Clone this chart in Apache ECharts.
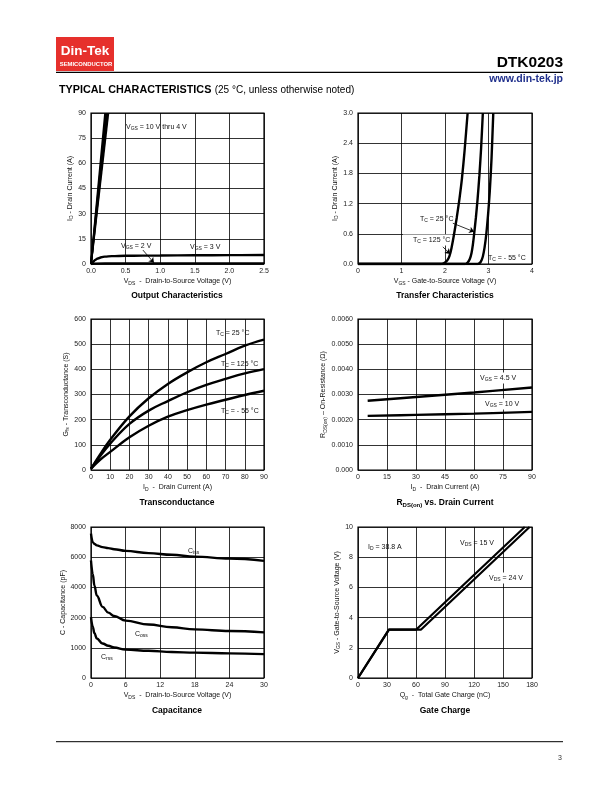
<!DOCTYPE html>
<html><head><meta charset="utf-8">
<script src="https://cdn.jsdelivr.net/npm/echarts@6/dist/echarts.min.js"></script>
<style>html,body{margin:0;padding:0;background:#fff}#c{width:612px;height:792px}</style>
</head><body><div id="c"></div>
<script>
// ---------- DATA ----------
// Output characteristics (VDS in V, ID in A)
const out_vgs10_x = [0, 0.205];   const out_vgs10_y = [0, 90];
const out_vgs6_x  = [0, 0.22];    const out_vgs6_y  = [0, 90];
const out_vgs5_x  = [0, 0.235];   const out_vgs5_y  = [0, 90];
const out_vgs4_x  = [0, 0.25];    const out_vgs4_y  = [0, 90];
const out_vgs3_x  = [0, 0.03, 0.06, 0.1, 0.15, 0.2, 0.3, 0.5, 1.0, 1.5, 2.0, 2.5];
const out_vgs3_y  = [0, 1.2, 2.4, 3.3, 4.0, 4.4, 4.7, 4.9, 5.1, 5.2, 5.3, 5.4];
const out_vgs2_x  = [0, 0.05, 0.2, 0.5, 1.0, 1.5, 2.0, 2.5];
const out_vgs2_y  = [0, 0.2, 0.35, 0.4, 0.4, 0.4, 0.4, 0.4];
// Transfer characteristics (VGS in V, ID in A)
const tr125_x = [0, 1.9, 1.98, 2.05, 2.1, 2.15, 2.21, 2.27, 2.33, 2.39, 2.45, 2.52];
const tr125_y = [0, 0, 0.02, 0.07, 0.15, 0.32, 0.6, 0.92, 1.28, 1.7, 2.25, 3.0];
const tr25_x  = [0, 2.45, 2.52, 2.57, 2.61, 2.64, 2.67, 2.71, 2.75, 2.79, 2.83, 2.87];
const tr25_y  = [0, 0, 0.03, 0.1, 0.22, 0.38, 0.6, 0.92, 1.3, 1.75, 2.3, 3.0];
const trm55_x = [0, 2.75, 2.82, 2.87, 2.91, 2.95, 2.99, 3.03, 3.07, 3.11];
const trm55_y = [0, 0, 0.04, 0.15, 0.33, 0.6, 0.98, 1.45, 2.1, 3.0];
// Transconductance (ID in A, Gfs in S)
const gfs_id   = [0, 5, 10, 20, 30, 40, 50, 60, 70, 80, 90];
const gfs_25   = [5, 65, 120, 213, 285, 342, 388, 428, 461, 494, 518];
const gfs_125  = [5, 58, 105, 183, 236, 274, 309, 338, 362, 384, 401];
const gfs_m55  = [5, 42, 72, 130, 176, 212, 238, 260, 279, 298, 315];
// RDS(on) vs drain current (ID in A, ohm)
const rds_id   = [5, 30, 60, 90];
const rds_45   = [0.00275, 0.00290, 0.00308, 0.00328];
const rds_10   = [0.00215, 0.00219, 0.00224, 0.00231];
// Capacitance (VDS in V, pF)
const cap_v    = [0, 0.3, 0.6, 1, 2, 3, 4, 6, 10, 14, 18, 24, 30];
const cap_ciss = [7560, 7000, 6880, 6780, 6670, 6600, 6530, 6420, 6270, 6160, 6040, 5910, 5760];
const cap_coss = [5780, 4890, 4110, 3460, 2710, 2330, 2110, 1900, 1770, 1680, 1610, 1556, 1510];
const cap_crss = [2030, 1700, 1480, 1310, 1140, 1070, 1010, 940, 900, 860, 840, 815, 790];
const capTicks = [0, 1000, 2000, 4000, 6000, 8000];
// Gate charge (Qg in nC, VGS in V)
const gc15_q = [0, 32, 60, 172.5];  const gc15_v = [0, 3.2, 3.2, 10];
const gc24_q = [0, 32, 65, 177.5];  const gc24_v = [0, 3.2, 3.2, 10];

// ---------- HELPERS ----------
const FONT = '"Liberation Sans", Arial, Helvetica, sans-serif';
const R = {
  n: {fontSize: 7, fontFamily: FONT, color: '#111'},
  s: {fontSize: 5, fontFamily: FONT, color: '#111', padding: [4, 0, 0, 0]},
  b: {fontSize: 8.5, fontFamily: FONT, fontWeight: 'bold', color: '#000'},
  bs: {fontSize: 6, fontFamily: FONT, fontWeight: 'bold', color: '#000', padding: [4, 0, 0, 0]}
};
function capToAxis(v) {
  for (let i = 1; i < capTicks.length; i++) {
    if (v <= capTicks[i]) return (i - 1) + (v - capTicks[i - 1]) / (capTicks[i] - capTicks[i - 1]);
  }
  return capTicks.length - 1;
}
const G = [
  {left: 91, top: 113, width: 173, height: 151},
  {left: 358, top: 113, width: 174, height: 151},
  {left: 91, top: 319, width: 173, height: 151},
  {left: 358, top: 319, width: 174, height: 151},
  {left: 91, top: 527, width: 173, height: 151},
  {left: 358, top: 527, width: 174, height: 151}
];
const grids = G.map(g => Object.assign({show: true, borderColor: '#000', borderWidth: 1.2, backgroundColor: 'transparent', containLabel: false}, g));
const split = {show: true, lineStyle: {color: '#000', width: 0.8}};
function xa(i, min, max, interval, name, fmt) {
  return {gridIndex: i, type: 'value', min, max, interval, name, nameLocation: 'middle', nameGap: 13,
    nameTextStyle: {rich: R, fontSize: 7, fontFamily: FONT},
    axisLine: {show: false}, axisTick: {show: false}, splitLine: split,
    axisLabel: {fontSize: 7, fontFamily: FONT, color: '#222', margin: 4, formatter: fmt}};
}
function ya(i, min, max, interval, name, gap, fmt) {
  return {gridIndex: i, type: 'value', min, max, interval, name, nameLocation: 'middle', nameGap: gap,
    nameTextStyle: {rich: R, fontSize: 7, fontFamily: FONT},
    axisLine: {show: false}, axisTick: {show: false}, splitLine: split,
    axisLabel: {fontSize: 7, fontFamily: FONT, color: '#222', margin: 5, formatter: fmt}};
}
function line(gi, xs, ys, extra) {
  return Object.assign({type: 'line', xAxisIndex: gi, yAxisIndex: gi,
    data: xs.map((x, k) => [x, ys[k]]), showSymbol: false, symbol: 'none',
    lineStyle: {color: '#000', width: 2.4}, animation: false, silent: true, z: 3}, extra || {});
}
function arrows(list) {
  return {silent: true, symbol: ['none', 'arrow'], symbolSize: 5, animation: false,
    lineStyle: {color: '#000', width: 0.8, type: 'solid'}, label: {show: false},
    data: list.map(a => [{coord: a[0]}, {coord: a[1]}])};
}
function txt(x, y, text, extra) {
  return Object.assign({type: 'text', x, y, z: 50,
    style: Object.assign({text, rich: R, fontSize: 7, fontFamily: FONT, fill: '#111', align: 'left', verticalAlign: 'middle'}, (extra && extra.style) || {})},
    extra && extra.z ? {z: extra.z} : {});
}
function title(x, y, text) {
  return {type: 'text', x, y, z: 50, style: {text, rich: R, fontSize: 8.5, fontWeight: 'bold', fontFamily: FONT, fill: '#000', align: 'center', verticalAlign: 'middle'}};
}

// ---------- OPTION ----------
const option = {
  backgroundColor: '#fff',
  animation: false,
  grid: grids,
  xAxis: [
    xa(0, 0, 2.5, 0.5, '{n|V}{s|DS}{n|  -  Drain-to-Source Voltage (V)}', v => v.toFixed(1)),
    xa(1, 0, 4, 1, '{n|V}{s|GS}{n| - Gate-to-Source Voltage (V)}'),
    xa(2, 0, 90, 10, '{n|I}{s|D}{n|  -  Drain Current (A)}'),
    xa(3, 0, 90, 15, '{n|I}{s|D}{n|  -  Drain Current (A)}'),
    xa(4, 0, 30, 6, '{n|V}{s|DS}{n|  -  Drain-to-Source Voltage (V)}'),
    xa(5, 0, 180, 30, '{n|Q}{s|g}{n|  -  Total Gate Charge (nC)}')
  ],
  yAxis: [
    ya(0, 0, 90, 15, '{n|I}{s|D}{n| - Drain Current (A)}', 16),
    ya(1, 0, 3, 0.6, '{n|I}{s|D}{n| - Drain Current (A)}', 13, v => v.toFixed(1)),
    ya(2, 0, 600, 100, '{n|G}{s|fs}{n| - Transconductance (S)}', 18),
    ya(3, 0, 0.006, 0.001, '{n|R}{s|DS(on)}{n| – On-Resistance (Ω)}', 22, v => v === 0 ? '0.000' : v.toFixed(4)),
    ya(4, 0, 5, 1, '{n|C - Capacitance (pF)}', 20, v => String(capTicks[Math.round(v)])),
    ya(5, 0, 10, 2, '{n|V}{s|GS}{n| - Gate-to-Source Voltage (V)}', 9)
  ],
  series: [
    line(0, out_vgs10_x, out_vgs10_y, {lineStyle: {color: '#000', width: 2}}),
    line(0, out_vgs6_x, out_vgs6_y, {lineStyle: {color: '#000', width: 2}}),
    line(0, out_vgs5_x, out_vgs5_y, {lineStyle: {color: '#000', width: 2}}),
    line(0, out_vgs4_x, out_vgs4_y, {lineStyle: {color: '#000', width: 2}}),
    line(0, out_vgs3_x, out_vgs3_y, {smooth: 0.4, smoothMonotone: 'x'}),
    line(0, out_vgs2_x, out_vgs2_y, {smooth: 0.3, markLine: arrows([[[0.75, 8.3], [0.91, 0.7]]])}),

    line(1, tr125_x, tr125_y, {smooth: 0.2, markLine: arrows([[[1.95, 0.34], [2.12, 0.2]]])}),
    line(1, tr25_x, tr25_y, {smooth: 0.2, markLine: arrows([[[2.18, 0.81], [2.67, 0.64]]])}),
    line(1, trm55_x, trm55_y, {smooth: 0.2}),

    line(2, gfs_id, gfs_25, {smooth: 0.4}),
    line(2, gfs_id, gfs_125, {smooth: 0.4}),
    line(2, gfs_id, gfs_m55, {smooth: 0.4}),

    line(3, rds_id, rds_45, {smooth: 0.4}),
    line(3, rds_id, rds_10, {smooth: 0.4}),

    line(4, cap_v, cap_ciss.map(capToAxis), {smooth: 0.4, smoothMonotone: 'x'}),
    line(4, cap_v, cap_coss.map(capToAxis), {smooth: 0.4, smoothMonotone: 'x'}),
    line(4, cap_v, cap_crss.map(capToAxis), {smooth: 0.4, smoothMonotone: 'x'}),

    line(5, gc15_q, gc15_v, {lineStyle: {color: '#000', width: 2.2}}),
    line(5, gc24_q, gc24_v, {lineStyle: {color: '#000', width: 2.2}})
  ],
  graphic: [
    // header
    {type: 'rect', shape: {x: 56, y: 37, width: 58, height: 34}, style: {fill: '#e6302c'}, z: 10},
    {type: 'text', x: 85, y: 51, z: 11, style: {text: 'Din-Tek', fill: '#fff', fontSize: 13.5, fontWeight: 'bold', fontFamily: FONT, align: 'center', verticalAlign: 'middle'}},
    {type: 'text', x: 86, y: 64.5, z: 11, style: {text: 'SEMICONDUCTOR', fill: '#fff', fontSize: 5.9, fontWeight: 'bold', fontFamily: FONT, align: 'center', verticalAlign: 'middle'}},
    {type: 'line', shape: {x1: 56, y1: 72.3, x2: 563, y2: 72.3}, style: {stroke: '#000', lineWidth: 1.3}, z: 10},
    {type: 'text', x: 563, y: 62.5, z: 11, style: {text: 'DTK0203', fill: '#000', fontSize: 15.5, fontWeight: 'bold', fontFamily: FONT, align: 'right', verticalAlign: 'middle'}},
    {type: 'text', x: 563, y: 79.5, z: 11, style: {text: 'www.din-tek.jp', fill: '#1f2f8c', fontSize: 10.5, fontWeight: 'bold', fontFamily: FONT, align: 'right', verticalAlign: 'middle'}},
    {type: 'text', x: 59, y: 90, z: 11, style: {text: '{t|TYPICAL CHARACTERISTICS} {u|(25 °C, unless otherwise noted)}', rich: {
      t: {fontSize: 10.8, fontWeight: 'bold', fontFamily: FONT, color: '#000'},
      u: {fontSize: 10, fontFamily: FONT, color: '#000'}}, align: 'left', verticalAlign: 'middle'}},
    // footer
    {type: 'line', shape: {x1: 56, y1: 741.7, x2: 563, y2: 741.7}, style: {stroke: '#000', lineWidth: 1}, z: 10},
    {type: 'text', x: 562, y: 758, z: 11, style: {text: '3', fill: '#333', fontSize: 7, fontFamily: FONT, align: 'right', verticalAlign: 'middle'}},

    // chart titles
    title(177, 296, '{b|Output Characteristics}'),
    title(445, 296, '{b|Transfer Characteristics}'),
    title(177, 503, '{b|Transconductance}'),
    title(445, 503, '{b|R}{bs|DS(on)}{b| vs. Drain Current}'),
    title(177, 711, '{b|Capacitance}'),
    title(445, 711, '{b|Gate Charge}'),

    // annotations chart 1
    txt(126, 127, '{n|V}{s|GS}{n| = 10 V thru 4 V}'),
    txt(121, 246, '{n|V}{s|GS}{n| = 2 V}'),
    txt(190, 247, '{n|V}{s|GS}{n| = 3 V}'),
    // chart 2
    txt(420, 219, '{n|T}{s|C}{n| = 25 °C}'),
    txt(403, 240, '{n|T}{s|C}{n| = 125 °C}', {style: {backgroundColor: '#fff', padding: [1, 2, 1, 10]}, z: 2}),
    txt(488, 258, '{n|T}{s|C}{n| = - 55 °C}'),
    // chart 3
    txt(216, 333, '{n|T}{s|C}{n| = 25 °C}'),
    txt(221, 364, '{n|T}{s|C}{n| = 125 °C}'),
    txt(221, 411, '{n|T}{s|C}{n| = - 55 °C}'),
    // chart 4
    txt(479, 378, '{n|V}{s|GS}{n| = 4.5 V}', {style: {backgroundColor: '#fff', padding: [1, 1]}, z: 2}),
    txt(484, 404, '{n|V}{s|GS}{n| = 10 V}', {style: {backgroundColor: '#fff', padding: [1, 1]}, z: 2}),
    // chart 5
    txt(188, 551, '{n|C}{s|iss}'),
    txt(135, 634, '{n|C}{s|oss}'),
    txt(101, 657, '{n|C}{s|rss}'),
    // chart 6
    txt(368, 547, '{n|I}{s|D}{n| = 38.8 A}'),
    txt(460, 543, '{n|V}{s|DS}{n| = 15 V}'),
    txt(488, 578, '{n|V}{s|DS}{n| = 24 V}', {style: {backgroundColor: '#fff', padding: [1, 1]}, z: 2})
  ]
};
const chart = echarts.init(document.getElementById('c'), null, {renderer: 'canvas'});
chart.setOption(option);
</script>
</body></html>
